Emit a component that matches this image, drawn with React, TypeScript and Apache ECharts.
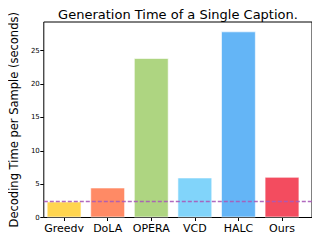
import React, { useEffect, useRef } from "react";
import * as echarts from "echarts";

const categories = ["Greedy", "DoLA", "OPERA", "VCD", "HALC", "Ours"];
const values = [2.4, 4.5, 23.9, 6.0, 27.9, 6.1];
const colors = ["#FFD54F", "#FF8A65", "#AED581", "#81D4FA", "#64B5F6", "#F34C5F"];
const baseline = 2.5;
const yMax = 29.3;

export default function App() {
  const ref = useRef<HTMLDivElement>(null);
  useEffect(() => {
    if (!ref.current) return;
    const chart = echarts.init(ref.current, undefined, { renderer: "svg" });
    const font = "DejaVu Sans";
    const dashStyle = { color: "#A85AB8", type: [4, 2], width: 1.3, opacity: 0.9 };
    chart.setOption({
      animation: false,
      backgroundColor: "#fff",
      title: {
        text: "Generation Time of a Single Caption.",
        left: 173,
        top: 3,
        textAlign: "center",
        textStyle: { fontFamily: font, fontSize: 13, fontWeight: "normal", color: "#000" },
      },
      grid: [
        { left: 34, right: 8, top: 22, bottom: 22.5, show: true, borderColor: "#000", borderWidth: 1, backgroundColor: "transparent" },
        { left: 42.3, right: 16.2, top: 22, bottom: 22.5 },
      ],
      xAxis: [
        { gridIndex: 0, type: "value", min: 0, max: 1, show: false },
        {
          gridIndex: 1,
          type: "category",
          data: categories,
          axisLine: { show: false },
          axisTick: { show: true, alignWithLabel: true, length: 3.5, lineStyle: { color: "#000" } },
          axisLabel: { fontFamily: font, fontSize: 11, color: "#000", margin: 5, interval: 0 },
        },
      ],
      yAxis: [
        {
          gridIndex: 0,
          type: "value",
          min: 0,
          max: yMax,
          interval: 5,
          axisLine: { show: false },
          axisTick: { show: true, length: 3.5, lineStyle: { color: "#000" } },
          axisLabel: { fontFamily: font, fontSize: 7, color: "#000", margin: 4, showMaxLabel: false },
          splitLine: { show: false },
          name: "Decoding Time per Sample (seconds)",
          nameLocation: "middle",
          nameGap: 19,
          nameTextStyle: { fontFamily: font, fontSize: 11.5, color: "#000" },
        },
        { gridIndex: 1, type: "value", min: 0, max: yMax, show: false },
      ],
      series: [
        {
          type: "bar",
          xAxisIndex: 1,
          yAxisIndex: 1,
          barWidth: "80%",
          data: values.map((v, i) => ({
            value: v,
            itemStyle: { color: colors[i], borderColor: "rgba(255,255,255,0.6)", borderWidth: 1 },
          })),
          z: 2,
        },
        {
          type: "line",
          xAxisIndex: 0,
          yAxisIndex: 0,
          data: [],
          z: 5,
          color: "#A85AB8",
          markLine: {
            silent: true,
            symbol: "none",
            label: { show: false },
            lineStyle: dashStyle,
            data: [{ yAxis: baseline, lineStyle: dashStyle }],
          },
        },
      ],
    });
    return () => chart.dispose();
  }, []);
  return <div ref={ref} style={{ width: 320, height: 240, margin: -8 }} />;
}
